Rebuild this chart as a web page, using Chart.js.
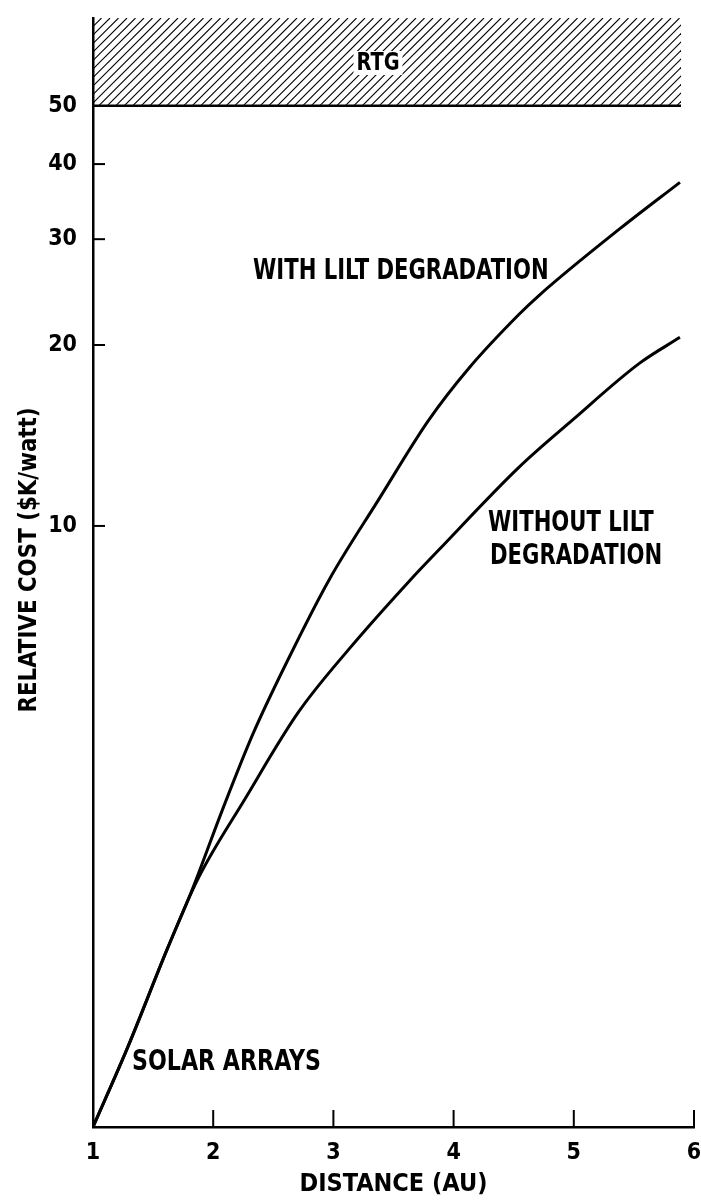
<!DOCTYPE html>
<html>
<head>
<meta charset="utf-8">
<script src="https://cdn.jsdelivr.net/npm/chart.js@4.4.1/dist/chart.umd.min.js"></script>
<style>
  html, body { margin: 0; padding: 0; background: #fff; }
  #wrap { width: 701px; height: 1203px; }
</style>
</head>
<body>
<div id="wrap"><canvas id="costChart"></canvas></div>
<script>
// distance (AU) and relative cost ($K/watt)
let distWith = [1, 1.284, 1.619, 1.828, 2.079, 2.329, 2.622, 2.965, 3.375, 3.793, 4.127, 4.545, 4.712, 5.381, 5.883];
let costWith = [1, 1.35, 1.98, 2.49, 3.38, 4.50, 5.99, 8.14, 11.05, 15.0, 18.3, 22.5, 24.2, 31.2, 37.3];
let distWithout = [1, 1.284, 1.619, 1.870, 2.263, 2.706, 3.124, 3.642, 3.876, 4.545, 4.988, 5.548, 5.883];
let costWithout = [1, 1.35, 1.98, 2.58, 3.51, 4.89, 6.22, 8.14, 9.12, 12.53, 15.0, 18.66, 20.6];
let yTicks = [10, 20, 30, 40, 50];
let yInnerTicks = [10, 20, 30, 40];
let xTicks = [1, 2, 3, 4, 5, 6];
let rtgLevel = 50;

const FONT = '"Liberation Sans Narrow", "DejaVu Sans Condensed", sans-serif';

function toPoints(xs, ys) {
  return xs.map((x, i) => ({ x: x, y: ys[i] }));
}

// squeezed text, the lettering in the original is narrow
function narrowText(ctx, text, x, y, squeeze, angle) {
  ctx.save();
  ctx.translate(x, y);
  if (angle) ctx.rotate(angle);
  ctx.scale(squeeze, 1);
  ctx.fillText(text, 0, 0);
  ctx.restore();
}

// hatched RTG band above 50 and its label
const rtgBand = {
  id: 'rtgBand',
  beforeDatasetsDraw(chart) {
    const { ctx, chartArea, scales } = chart;
    const y50 = scales.y.getPixelForValue(rtgLevel);
    const left = chartArea.left;
    const right = 681;
    const top = chartArea.top;
    ctx.save();
    ctx.beginPath();
    ctx.rect(left, top, right - left, y50 - top);
    ctx.clip();
    ctx.strokeStyle = '#000';
    ctx.lineWidth = 1.1;
    const h = y50 - top;
    for (let x = left - h; x < right + 10; x += 8.5) {
      ctx.beginPath();
      ctx.moveTo(x, y50);
      ctx.lineTo(x + h, top);
      ctx.stroke();
    }
    ctx.restore();

    ctx.save();
    ctx.font = 'bold 25px ' + FONT;
    ctx.textAlign = 'center';
    ctx.textBaseline = 'middle';
    const w = ctx.measureText('RTG').width * 0.86;
    ctx.fillStyle = '#fff';
    ctx.fillRect(378 - w / 2 - 3, 51, w + 6, 24);
    ctx.fillStyle = '#000';
    narrowText(ctx, 'RTG', 378, 63, 0.86);

    ctx.strokeStyle = '#000';
    ctx.lineWidth = 2.5;
    ctx.beginPath();
    ctx.moveTo(left, y50);
    ctx.lineTo(right, y50);
    ctx.stroke();
    ctx.restore();
  }
};

// tick marks drawn inward, the y title and the curve labels
const marks = {
  id: 'marks',
  afterDraw(chart) {
    const { ctx, chartArea, scales } = chart;
    ctx.save();
    ctx.strokeStyle = '#000';
    ctx.lineWidth = 2;
    yInnerTicks.forEach(v => {
      const py = scales.y.getPixelForValue(v);
      ctx.beginPath();
      ctx.moveTo(chartArea.left, py);
      ctx.lineTo(chartArea.left + 12, py);
      ctx.stroke();
    });
    xTicks.slice(1).forEach(v => {
      const px = scales.x.getPixelForValue(v);
      ctx.beginPath();
      ctx.moveTo(px, chartArea.bottom);
      ctx.lineTo(px, chartArea.bottom - 17);
      ctx.stroke();
    });

    ctx.fillStyle = '#000';
    ctx.textBaseline = 'middle';
    ctx.textAlign = 'center';
    ctx.font = 'bold 25px ' + FONT;
    narrowText(ctx, 'RELATIVE COST ($K/watt)', 29, 560, 0.95, -Math.PI / 2);

    ctx.font = 'bold 28px ' + FONT;
    ctx.textAlign = 'left';
    narrowText(ctx, 'WITH LILT DEGRADATION', 253, 272, 0.84);
    narrowText(ctx, 'WITHOUT LILT', 488, 524, 0.84);
    narrowText(ctx, 'DEGRADATION', 490, 557, 0.84);
    narrowText(ctx, 'SOLAR ARRAYS', 132, 1063, 0.88);
    ctx.restore();
  }
};

new Chart(document.getElementById('costChart'), {
  type: 'line',
  data: {
    datasets: [{
      label: 'With LILT degradation',
      data: toPoints(distWith, costWith),
      borderColor: '#000',
      borderWidth: 3,
      pointRadius: 0,
      cubicInterpolationMode: 'monotone',
      fill: false
    }, {
      label: 'Without LILT degradation',
      data: toPoints(distWithout, costWithout),
      borderColor: '#000',
      borderWidth: 3,
      pointRadius: 0,
      cubicInterpolationMode: 'monotone',
      fill: false
    }]
  },
  options: {
    responsive: true,
    maintainAspectRatio: false,
    animation: false,
    layout: {
      padding: { top: 18, right: 7, left: 0, bottom: 0 }
    },
    plugins: {
      legend: { display: false },
      tooltip: { enabled: false }
    },
    scales: {
      x: {
        type: 'linear',
        min: 1,
        max: 6,
        afterBuildTicks: scale => { scale.ticks = xTicks.map(v => ({ value: v })); },
        afterFit: scale => {
          scale.height = 76;
          scale.paddingLeft = 0;
          scale.paddingRight = 0;
        },
        grid: { display: false, drawTicks: false },
        border: { display: true, color: '#000', width: 2.5 },
        ticks: {
          color: '#000',
          padding: 12,
          font: { family: FONT, size: 23, weight: 'bold' }
        },
        title: {
          display: true,
          text: 'DISTANCE (AU)',
          color: '#000',
          padding: { top: 0, bottom: 4 },
          font: { family: FONT, size: 25, weight: 'bold', lineHeight: 1.2 }
        }
      },
      y: {
        type: 'logarithmic',
        min: 1,
        max: 70,
        afterBuildTicks: scale => { scale.ticks = yTicks.map(v => ({ value: v })); },
        afterFit: scale => {
          scale.width = 93;
          scale.paddingTop = 0;
          scale.paddingBottom = 0;
        },
        grid: { display: false, drawTicks: false },
        border: { display: true, color: '#000', width: 2.5 },
        ticks: {
          color: '#000',
          padding: 16,
          callback: v => String(v),
          font: { family: FONT, size: 23, weight: 'bold' }
        },
        title: { display: false }
      }
    }
  },
  plugins: [rtgBand, marks]
});
</script>
</body>
</html>
